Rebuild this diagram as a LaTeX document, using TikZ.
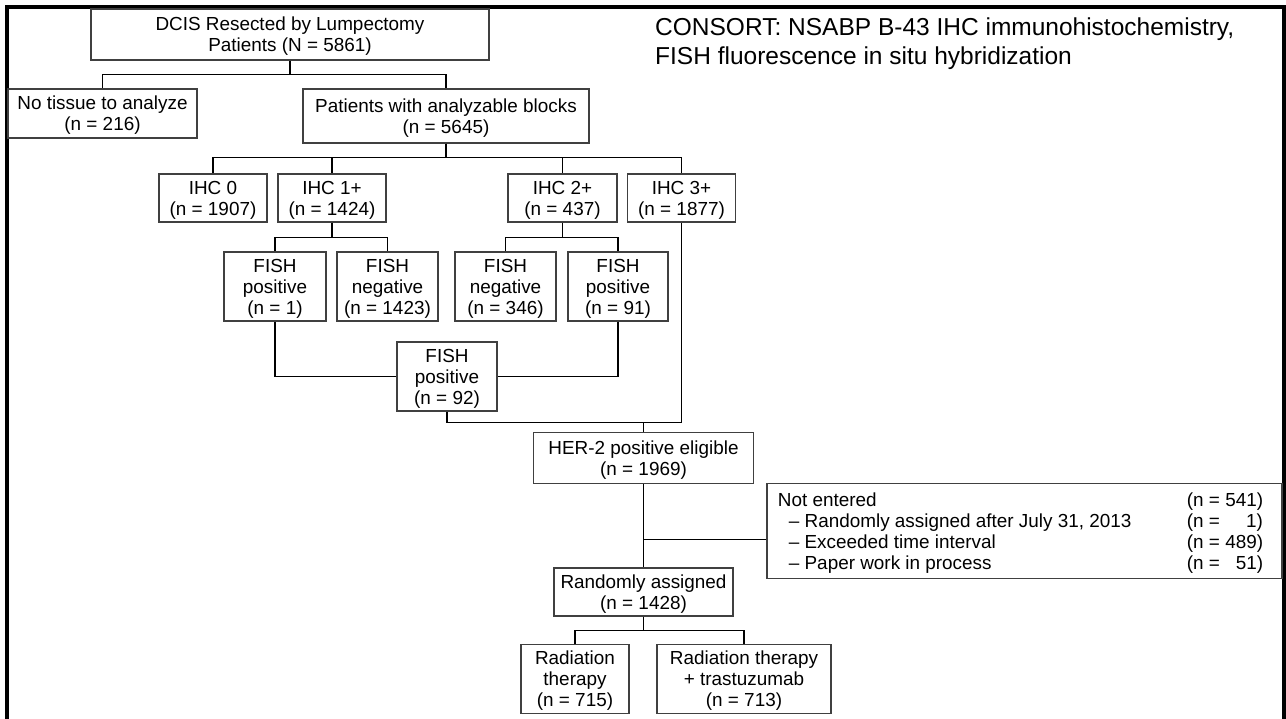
\documentclass[tikz,border=0pt]{standalone}
\usepackage{fontspec}
\setmainfont{Liberation Sans}

\begin{document}
\begin{tikzpicture}[x=1pt, y=-1pt,
    box/.style={draw=black!75, line width=1.2pt, align=center, inner sep=0pt,
      text depth=-6pt, font=\fontsize{18.9}{21}\selectfont},
    link/.style={line width=1.4pt}]
  \useasboundingbox (0,0) rectangle (1286,719);

  % Frame
  \draw[line width=4pt] (6.5,722) -- (6.5,7) -- (1283.5,7) -- (1283.5,722);

  % Title
  \node[anchor=base west, align=left, inner sep=0pt, font=\fontsize{24.5}{28.5}\selectfont] (title) at (655,64.5)
    {CONSORT: NSABP B-43 IHC immunohistochemistry,\\FISH fluorescence in situ hybridization};

  % Patients
  \node[box, minimum width=398pt, minimum height=51pt] (dcis) at (290,34.5) {DCIS Resected by Lumpectomy\\Patients (N = 5861)};
  \node[box, minimum width=189pt, minimum height=49pt] (notissue) at (102.5,113.5) {No tissue to analyze\\(n = 216)};
  \node[box, minimum width=286pt, minimum height=54pt] (blocks) at (446,116) {Patients with analyzable blocks\\(n = 5645)};

  % IHC scores
  \node[box, minimum width=108pt, minimum height=48pt] (ihc0) at (213,198) {IHC 0\\(n = 1907)};
  \node[box, minimum width=108pt, minimum height=48pt] (ihc1) at (332,198) {IHC 1+\\(n = 1424)};
  \node[box, minimum width=109pt, minimum height=48pt] (ihc2) at (562.5,198) {IHC 2+\\(n = 437)};
  \node[box, minimum width=108pt, minimum height=48pt] (ihc3) at (681.5,198) {IHC 3+\\(n = 1877)};

  % FISH results
  \node[box, minimum width=102pt, minimum height=69pt] (fpos1) at (275,286.5) {FISH\\positive\\(n = 1)};
  \node[box, minimum width=101pt, minimum height=69pt] (fneg1) at (387.5,286.5) {FISH\\negative\\(n = 1423)};
  \node[box, minimum width=101pt, minimum height=69pt] (fneg2) at (505.5,286.5) {FISH\\negative\\(n = 346)};
  \node[box, minimum width=100pt, minimum height=69pt] (fpos2) at (618,286.5) {FISH\\positive\\(n = 91)};
  \node[box, minimum width=100pt, minimum height=69pt] (fsum) at (447,376.5) {FISH\\positive\\(n = 92)};

  % Eligible and assigned
  \node[box, minimum width=220pt, minimum height=51pt] (her2) at (643.5,458) {HER-2 positive eligible\\(n = 1969)};
  \node[box, minimum width=179pt, minimum height=48pt] (rand) at (643.5,592) {Randomly assigned\\(n = 1428)};
  \node[box, minimum width=515pt, minimum height=95pt] (notentered) at (1024.5,531)
    {\begin{tabular}[b]{@{}p{409pt}@{}l@{\hspace{5.3pt}}r@{\hspace{8pt}}}
      Not entered & (n = & 541)\\
      \hspace*{11pt}– Randomly assigned after July 31, 2013 & (n = & 1)\\
      \hspace*{11pt}– Exceeded time interval & (n = & 489)\\
      \hspace*{11pt}– Paper work in process & (n = & 51)
    \end{tabular}};
  \node[box, minimum width=108pt, minimum height=69pt] (radio) at (575,679) {Radiation\\therapy\\(n = 715)};
  \node[box, minimum width=174pt, minimum height=69pt] (radtz) at (744,679) {Radiation therapy\\+ trastuzumab\\(n = 713)};

  % Connectors
  \draw[link] (dcis.south) -- ++(0,14) -| (notissue.north);
  \draw[link] (dcis.south) -- ++(0,14) -| (blocks.north);
  \foreach \n in {ihc0,ihc1,ihc2,ihc3}
    \draw[link] (blocks.south) -- ++(0,14) -| (\n.north);
  \foreach \a/\b in {ihc1/fpos1, ihc1/fneg1, ihc2/fneg2, ihc2/fpos2}
    \draw[link] (\a.south) -- ++(0,15) -| (\b.north);
  \draw[link] (fpos1.south) |- (fsum.west);
  \draw[link] (fpos2.south) |- (fsum.east);
  \draw[link] (fsum.south) -- ++(0,11) coordinate (join) -| (ihc3.south);
  \draw[link] (join -| her2.north) -- (her2.north);
  \draw[link] (her2.south) -- (rand.north);
  \draw[link] ([yshift=-8.5pt]notentered.west) coordinate (side) -- (side -| her2.south);
  \foreach \n in {radio,radtz}
    \draw[link] (rand.south) -- ++(0,14) -| (\n.north);
\end{tikzpicture}
\end{document}
